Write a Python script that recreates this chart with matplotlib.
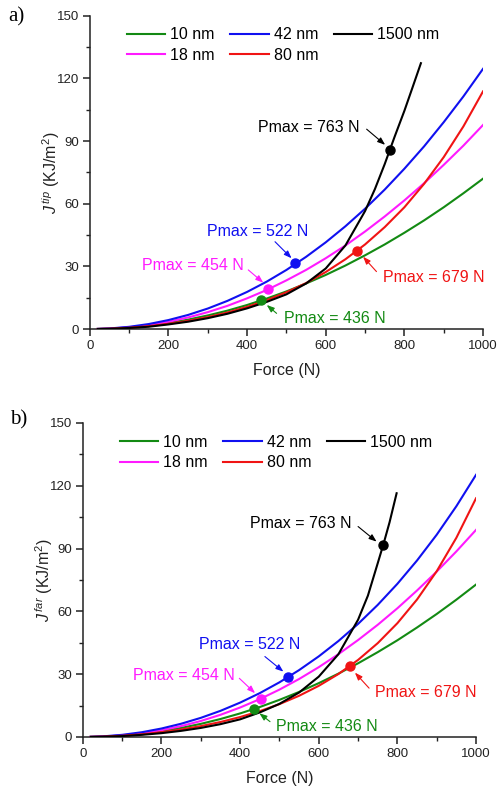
import matplotlib
matplotlib.use("Agg")
import matplotlib.pyplot as plt
from matplotlib.ticker import MultipleLocator

plt.rcParams['font.family'] = ['Liberation Sans', 'DejaVu Sans']
plt.rcParams['mathtext.fontset'] = 'custom'
plt.rcParams['mathtext.rm'] = 'Liberation Sans'
plt.rcParams['mathtext.it'] = 'Liberation Sans:italic'

# force grid shared by the thin-film curves (N)
force = [20, 50, 100, 150, 200, 250, 300, 350, 400, 450, 500,
         550, 600, 650, 700, 750, 800, 850, 900, 950, 1000]

# panel a) J tip (KJ/m2)
green_a = [0.03, 0.18, 0.72, 1.6, 2.9, 4.5, 6.5, 8.8, 11.5, 14.6, 18.0,
           21.8, 25.9, 30.4, 35.3, 40.5, 46.1, 52.0, 58.3, 65.0, 72.0]
magenta_a = [0.03, 0.2, 0.83, 1.93, 3.49, 5.54, 8.08, 11.1, 14.7, 18.7, 23.3,
             28.3, 33.9, 40.0, 46.7, 53.9, 61.6, 69.8, 78.6, 87.8, 97.7]
blue_a = [0.04, 0.26, 1.05, 2.39, 4.29, 6.75, 9.81, 13.48, 17.77, 22.7, 28.29,
          34.56, 41.52, 49.2, 57.61, 66.78, 76.76, 87.44, 99.04, 111.36, 124.6]
red_a = [0.02, 0.15, 0.61, 1.37, 2.5, 3.9, 5.7, 7.9, 10.6, 13.8, 17.6,
         22.0, 27.3, 33.4, 40.5, 48.8, 58.3, 69.5, 82.3, 97.0, 113.8]
black_force_a = [20, 50, 100, 150, 200, 250, 300, 350, 400, 450, 500,
                 550, 600, 650, 700, 725, 750, 775, 800, 820, 842]
black_a = [0.02, 0.1, 0.5, 1.1, 2.2, 3.5, 5.2, 7.3, 9.9, 13.0, 16.6,
           21.8, 29.0, 40.0, 56.5, 67.0, 79.0, 92.0, 104.5, 115.3, 127.3]

# panel b) J far (KJ/m2)
green_b = [0.02, 0.16, 0.66, 1.52, 2.73, 4.3, 6.24, 8.55, 11.23, 14.28, 17.71,
           21.49, 25.69, 30.24, 35.17, 40.5, 46.17, 52.28, 58.73, 65.57, 72.8]
magenta_b = [0.02, 0.17, 0.73, 1.74, 3.21, 5.16, 7.61, 10.57, 14.05, 18.05, 22.6,
             27.67, 33.32, 39.53, 46.28, 53.57, 61.46, 69.96, 78.99, 88.63, 98.9]
blue_b = [0.04, 0.25, 1.0, 2.25, 4.02, 6.3, 9.11, 12.46, 16.39, 20.92, 26.08,
          31.92, 38.48, 45.81, 53.99, 63.08, 73.15, 84.3, 96.6, 110.22, 125.2]
red_b = [0.02, 0.14, 0.56, 1.26, 2.26, 3.55, 5.16, 7.13, 9.49, 12.31, 15.67,
         19.66, 24.41, 30.05, 36.78, 44.8, 54.34, 65.66, 79.16, 95.14, 114.0]
black_force_b = [20, 50, 100, 150, 200, 250, 300, 350, 400, 450, 500,
                 550, 600, 650, 700, 725, 750, 765, 780, 798]
black_b = [0.02, 0.1, 0.4, 1.0, 1.8, 2.9, 4.3, 6.1, 8.4, 11.7, 15.8,
           21.2, 28.8, 39.5, 56.0, 67.5, 83.0, 92.4, 102.5, 116.4]

# Pmax points
sizes = ['10 nm', '18 nm', '42 nm', '80 nm', '1500 nm']
colors = ['#138a13', '#ff1aff', '#1010f0', '#f01414', '#000000']
pmax = [436, 454, 522, 679, 763]
pmax_j_a = [13.9, 19.2, 31.6, 37.5, 85.8]
pmax_j_b = [13.2, 18.2, 28.8, 33.8, 91.7]

# label position / arrow tail / arrow head, per curve
labels_a = [((623, 5.1), (475, 7.5), (450, 11.5)),
            ((261, 30.3), (403, 28.3), (441, 22.2)),
            ((427, 46.6), (471, 41.8), (513, 33.9)),
            ((874, 24.6), (729, 27.5), (695, 34.6)),
            ((556, 96.3), (704, 95.7), (751, 88.2))]
labels_b = [((621, 4.9), (476, 7.3), (449, 11.3)),
            ((258, 29.3), (398, 28.0), (438, 20.9)),
            ((425, 44.0), (463, 38.4), (510, 31.2)),
            ((873, 21.2), (728, 23.3), (692, 30.7)),
            ((555, 102.1), (700, 100.5), (747, 93.3))]

fig = plt.figure(figsize=(4.99, 7.89), dpi=100)
ax_a = fig.add_axes([0.180, 0.583, 0.788, 0.397])
ax_b = fig.add_axes([0.166, 0.066, 0.788, 0.398])

text_col = '#222222'


def draw_panel(ax, series, black_force, pmax_j, labels, ylabel):
    # thin film curves share the force grid, the bulk one has its own
    for i, ys in enumerate(series):
        xs = black_force if i == 4 else force
        ax.plot(xs, ys, color=colors[i], lw=1.5, label=sizes[i], zorder=3)
    for i in range(5):
        ax.plot(pmax[i], pmax_j[i], 'o', color=colors[i], ms=6.5, zorder=4)
        (tx, ty), tail, head = labels[i]
        ax.text(tx, ty, 'Pmax = %d N' % pmax[i], color=colors[i], fontsize=11.5,
                ha='center', va='center')
        ax.annotate('', xy=head, xytext=tail,
                    arrowprops=dict(arrowstyle='-|>,head_length=0.45,head_width=0.17',
                                    color=colors[i], lw=0.8, shrinkA=0, shrinkB=0))

    ax.set_xlim(0, 1000)
    ax.set_ylim(0, 150)
    ax.xaxis.set_major_locator(MultipleLocator(200))
    ax.xaxis.set_minor_locator(MultipleLocator(100))
    ax.yaxis.set_major_locator(MultipleLocator(30))
    ax.yaxis.set_minor_locator(MultipleLocator(15))
    for s in ['top', 'right']:
        ax.spines[s].set_visible(False)
    for s in ['left', 'bottom']:
        ax.spines[s].set_linewidth(1.1)
        ax.spines[s].set_color(text_col)
    ax.tick_params(which='major', direction='out', length=5, width=1.1,
                   labelsize=9.5, pad=3, colors=text_col)
    ax.tick_params(which='minor', direction='out', length=3, width=1.0, colors=text_col)
    ax.set_xlabel('Force (N)', fontsize=11.5, color=text_col, labelpad=8)
    ax.set_ylabel(ylabel, fontsize=11.5, color=text_col, labelpad=-4)

    # legend laid out as 10/18 | 42/80 | 1500
    ax.legend(loc='upper left', bbox_to_anchor=(0.094, 0.963), ncol=3,
              frameon=False, fontsize=11.5, handlelength=2.4, handletextpad=0.3,
              columnspacing=1.0, labelspacing=0.35, borderpad=0, borderaxespad=0)


draw_panel(ax_a, [green_a, magenta_a, blue_a, red_a, black_a], black_force_a,
           pmax_j_a, labels_a, r'$J^{\,tip}$ (KJ/m$^2$)')
draw_panel(ax_b, [green_b, magenta_b, blue_b, red_b, black_b], black_force_b,
           pmax_j_b, labels_b, r'$J^{\,far}$ (KJ/m$^2$)')

fig.text(0.016, 0.978, 'a)', family='Liberation Serif', fontsize=15, va='center')
fig.text(0.020, 0.468, 'b)', family='Liberation Serif', fontsize=15, va='center')

fig.savefig('out.png', dpi=100)
